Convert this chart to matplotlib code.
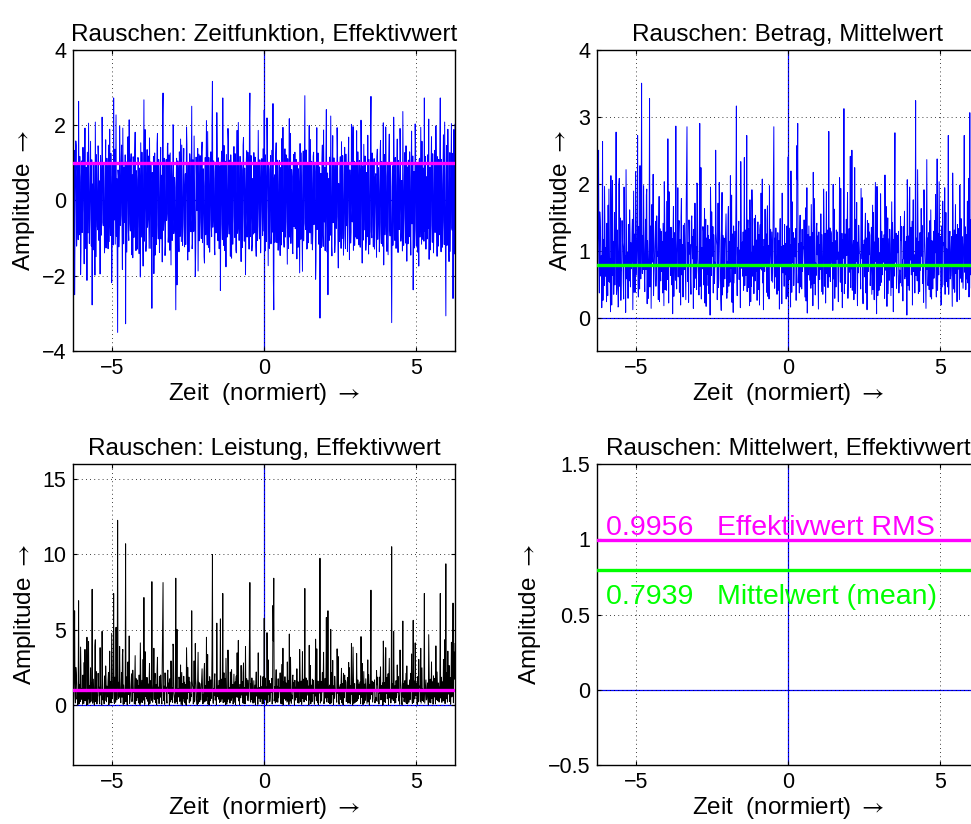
"""
Rauschen: Zeitfunktion, Betrag, Leistung und Kennwerte (Mittelwert / Effektivwert).
Saves out.png.
"""
import numpy as np
import matplotlib
matplotlib.use("Agg")
import matplotlib.pyplot as plt

plt.rcParams["font.family"] = ["Liberation Sans", "DejaVu Sans"]
plt.rcParams["mathtext.fontset"] = "stix"

# noise samples (t from -2pi to 2pi)
noise = [
    0.84, -0.41, -1.12, 1.33, -2.50, -0.77, 0.37, 1.58, 1.46, -1.21, -0.62, 0.93, 0.15, -1.04, 2.63, 0.26, -0.91, 1.17, 0.48, -1.96,
    -1.37, 0.62, 1.05, -0.85, -0.24, 1.41, 0.71, -0.33, -1.68, 0.54, 1.92, -1.27, -0.53, 0.88, 0.09, -2.12, 1.28, 0.19, -0.86, 2.05,
    0.63, -1.14, -0.35, 0.72, 1.57, -0.49, -1.21, 1.08, -2.77, 0.35, 0.44, -1.31, 0.98, 0.16, -0.17, -1.98, 2.08, 0.47, -1.49, 1.22,
    0.26, -0.69, -0.78, 1.45, 1.13, -1.06, 0.52, -0.28, -1.95, 1.19, 0.81, -0.92, -0.08, 2.21, 1.36, -0.58, -0.67, 0.97, 0.29, -1.39,
    -1.04, 0.55, 1.61, -1.26, -0.46, 1.12, 0.73, -0.84, -1.28, 1.47, 0.12, -1.09, 1.89, -0.38, -0.93, 1.25, 0.38, -2.18, -1.57, 0.64,
    0.94, -1.18, 2.72, -0.52, -0.31, 1.36, -1.16, 0.43, 2.27, -0.95, 0.58, -1.42, -3.50, 0.81, 0.66, -1.23, -0.72, 1.97, 1.19, -0.66,
    -0.39, 1.03, 1.47, -0.72, -1.83, 1.92, 0.21, -1.15, 0.87, 0.29, -0.58, 1.21, -3.27, -0.46, 1.02, -1.37, -0.14, 0.91, 1.69, -0.83,
    -1.06, 2.14, 0.33, -0.61, -0.81, 1.07, 1.24, -1.44, 0.47, 0.68, -1.52, 1.16, 0.92, -0.98, -0.27, 1.31, 1.81, -0.24, -1.33, 0.79,
    0.55, -1.29, -0.69, 1.14, 1.08, -0.37, -1.41, 0.86, 0.18, -2.03, 1.53, 0.42, -0.97, 1.28, 0.41, -0.89, -1.74, 0.57, 2.67, -1.08,
    -0.22, 1.88, 0.76, -1.35, -1.11, 0.63, 1.35, -0.71, -0.49, 1.18, 0.06, -1.27, 1.66, 0.32, -1.27, 1.02, 0.89, -0.56, -2.86, 0.74,
    0.43, -0.96, 1.17, -1.94, -0.61, 1.26, -1.45, 0.38, 0.95, -1.17, -0.19, 1.51, 1.78, -0.64, -1.02, 1.09, 0.31, -1.38, -0.84, 0.72,
    1.41, -1.02, 0.67, 0.27, -1.63, 2.26, 2.85, -0.79, -0.54, 1.12, 0.23, -1.46, -1.18, 0.95, 1.09, -0.53, -0.35, 1.44, 1.52, -1.11,
    -0.88, 1.21, 0.14, -1.32, 1.26, -0.45, -1.71, 0.98, 0.59, -1.06, -0.42, 2.01, 1.97, -0.88, -0.76, 0.61, 0.34, -1.24, -2.90, 0.47,
    1.12, -2.24, -0.28, 1.05, 0.83, -0.73, -1.36, 1.29, 0.49, -0.95, 1.63, 0.22, -1.09, 1.47, 0.17, -1.19, -0.65, 0.84, 1.38, -0.48,
    -1.23, 0.36, 0.71, -1.17, -0.04, 1.95, 1.48, -0.63, -1.58, 1.01, 0.92, -1.36, -0.37, 1.24, 1.06, -0.51, -0.83, 0.76, 2.50, -1.28,
    -1.14, 1.08, 0.27, -0.82, 1.71, 0.45, -0.59, -2.02, -1.31, 1.15, 0.64, -0.27, 0.11, 1.38, -1.87, -0.34, 1.23, -1.07, -0.46, 1.19,
    0.96, -0.58, -1.01, 1.27, 1.55, -1.12, -0.29, 0.84, 0.38, -1.49, -1.66, 0.47, 1.14, -0.91, 0.53, 2.12, -0.74, -1.18, 1.83, 0.23,
    -1.25, 1.14, 0.08, -1.37, -0.52, 0.89, 1.29, -0.66, -0.96, 1.89, 3.16, -0.71, -0.33, 1.05, 0.78, -1.29, -1.44, 0.57, 1.01, -0.86,
    -0.15, 2.33, 1.39, -0.74, -1.07, 1.13, 0.62, -1.28, -0.41, 0.93, -2.39, -0.48, 0.86, 1.31, -0.63, -1.04, 2.72, 0.39, -1.19, 1.46,
    0.45, -1.33, 1.04, 0.18, -1.76, 1.22, 0.24, -0.97, -0.47, 1.91, 1.58, -0.62, -0.89, 1.07, 0.36, -1.48, 1.21, 0.55, -1.53, 0.99,
    0.69, -1.16, -0.26, 1.08, 1.43, -0.42, -0.98, 1.24, 0.19, -1.31, -1.39, 0.73, 1.86, -0.87, -0.71, 2.07, 0.52, -1.06, -0.12, 1.17,
    1.16, -0.69, -1.62, 0.94, 0.81, -1.25, -0.38, 1.46, 1.67, -0.32, -1.08, 0.86, 0.28, -1.97, -0.79, 1.03, 1.32, -0.97, -0.55, 1.28,
    0.94, -0.53, -1.29, 2.11, 2.85, -0.96, -0.44, 1.19, 0.61, -1.34, -1.17, 0.58, 0.35, -0.89, 1.27, 0.41, -0.86, 1.15, 0.13, -1.22,
    -1.48, 0.77, 0.99, -1.06, -0.21, 1.86, 0.74, -0.67, -1.02, 1.08, 0.47, -1.39, -0.64, 0.92, 1.11, -0.28, -0.93, 1.37, 0.32, -0.81,
    2.40, -0.62, -1.34, 1.21, 0.57, -1.09, -0.16, 2.19, 1.44, -0.38, -1.73, 0.96, 0.82, -1.27, -0.48, 0.71, 1.19, -1.15, -0.91, 1.33,
    0.26, -0.84, 2.57, -2.06, -2.90, 0.52, 0.68, -1.11, -0.37, 1.24, 1.53, -0.46, -1.12, 1.07, 0.43, -1.32, -0.69, 0.88, 1.06, -1.03,
    -1.46, 0.87, 0.31, -1.18, 1.64, -0.25, -0.82, 1.94, 0.07, -1.03, -1.24, 0.64, 1.37, -0.97, -0.56, 1.21, 0.91, -0.44, -1.69, 1.11,
    0.49, -1.27, 0.18, 2.17, -0.97, -0.51, 1.78, -1.14, -0.34, 0.82, 0.63, -1.36, -1.41, 0.94, 1.22, -0.69, -0.13, 1.28, -0.75, 0.57,
    1.09, -0.72, -1.55, 0.93, 0.39, -1.24, 0.84, 0.35, -0.66, -1.92, 1.51, -0.47, -1.03, 1.26, 0.22, -0.93, -1.88, 0.66, 1.31, -1.07,
    -0.45, 1.18, 2.78, -0.61, -0.77, 1.34, 0.54, -1.29, -1.26, 0.81, 0.96, -1.12, 0.11, 1.99, -0.58, -0.86, 1.62, 0.29, -1.15, 1.04,
    0.46, -1.31, -0.87, 1.17, 1.28, -0.64, -0.24, 0.98, 0.77, -2.09, -1.61, 0.53, 1.93, -0.77, -0.39, 1.26, 0.15, -1.16, -1.04, 0.89,
    -3.12, -0.36, 0.72, -1.25, -0.51, 1.09, 1.47, -0.93, -1.22, 1.87, 0.29, -0.57, 0.88, -1.33, -0.68, 1.21, 2.41, -0.45, -1.37, 0.73,
    -2.50, 0.41, 0.58, -1.06, 1.15, 0.27, -0.92, 2.24, 0.36, -1.22, -1.47, 0.84, 1.72, -0.59, -0.18, 1.13, 0.67, -1.38, -1.13, 0.96,
    0.95, -0.74, -0.43, 1.93, 1.34, -0.88, -1.79, 0.45, 0.21, -1.09, 0.79, 1.16, -0.61, -1.27, 1.56, 0.37, -1.01, 1.19, 0.12, -1.45,
    -0.73, 0.69, 1.41, -0.94, -1.28, 1.23, 0.48, -0.67, 0.93, -1.35, -0.35, 1.07, 1.68, -0.42, -1.57, 0.81, 0.27, -1.13, -0.84, 2.02,
    1.19, -0.57, -0.06, 1.96, -1.32, 0.33, 1.04, -1.19, 0.41, 0.96, -0.97, -0.48, 1.85, -1.02, -0.53, 1.29, 0.64, -0.81, -1.18, 1.06,
    0.83, -1.24, -0.29, 2.13, 1.26, -0.71, -1.66, 0.92, 0.17, -1.05, 1.49, 0.36, -0.78, 1.18, 0.56, -1.32, -1.09, 0.74, 0.33, -0.96,
    1.73, -0.45, -1.42, 1.09, 0.09, -1.17, -0.62, 1.88, 2.76, -0.83, -0.99, 1.26, 0.44, -0.68, -1.23, 0.97, 1.11, -1.29, -0.37, 0.62,
    0.71, -0.52, -1.51, 1.16, 1.36, -1.03, -0.47, 0.87, 0.25, -1.36, -0.88, 1.24, 1.59, -0.58, -1.14, 1.03, 0.62, -1.21, 0.04, 2.06,
    -1.71, 0.48, 1.22, -0.91, -0.41, 1.95, 0.86, -1.07, -1.35, 0.64, 1.01, -1.44, -0.19, 1.18, 1.76, -0.69, -0.94, 0.93, 0.37, -1.26,
    -3.24, -0.63, 0.92, -1.19, -0.55, 2.21, 1.18, -0.36, -1.06, 1.14, 0.39, -1.27, -0.71, 0.84, 1.63, -0.92, -1.38, 1.06, 0.51, -0.77,
    -0.23, 1.91, 1.29, -1.08, -0.86, 0.53, 0.14, -1.34, 2.36, 0.72, -1.19, -0.48, 0.66, 1.27, -0.42, -1.13, 1.45, 0.31, -1.61, 0.89,
    0.28, -1.15, 1.07, -0.43, -0.96, 1.29, 0.59, -0.84, -1.45, 0.97, 1.84, -0.62, -0.31, 1.18, -2.37, -0.41, 0.77, -1.26, -0.64, 2.03,
    1.38, -0.79, -1.21, 0.95, 0.19, -1.37, 0.94, 0.46, -1.74, 1.08, 1.12, -0.97, -0.49, 1.94, 0.35, -1.16, 1.57, -0.54, -1.03, 0.86,
    0.46, -1.08, 2.72, -0.35, -0.82, 1.17, -1.29, 0.58, 0.63, -1.02, 1.21, -0.74, -0.17, 2.16, -1.56, 0.43, 0.88, -1.31, -0.38, 0.99,
    1.69, -0.66, -1.11, 1.24, 0.24, -1.39, -0.72, 0.91, 1.33, -0.85, -0.27, 1.98, 0.97, -0.59, -1.48, 1.16, 0.53, -1.21, 1.09, -0.44,
    -0.91, 1.26, 2.72, -0.68, -1.36, 1.09, 0.42, -1.24, -0.58, 0.95, 1.74, -0.52, -1.17, 2.08, 0.31, -0.97, -3.06, 0.64, 1.46, -1.19,
    -0.44, 1.89, 0.85, -1.08, -1.62, 0.49, 1.27, -1.35, -0.23, 1.17, 2.04, -0.73, -0.79, 1.25, -2.60, 0.38, 1.88, -1.42, -1.31, 2.02,
]

# values printed in the last panel
rms_value = 0.9956
mean_value = 0.7939

titles = [
    "Rauschen: Zeitfunktion, Effektivwert",
    "Rauschen: Betrag, Mittelwert",
    "Rauschen: Leistung, Effektivwert",
    "Rauschen: Mittelwert, Effektivwert",
]
ylims = [(-4, 4), (-0.5, 4), (-4, 16), (-0.5, 1.5)]
yticks = [[-4, -2, 0, 2, 4], [0, 1, 2, 3, 4], [0, 5, 10, 15], [-0.5, 0, 0.5, 1, 1.5]]
yticklabels = [None, None, None, ["\u22120.5", "0", "0.5", "1", "1.5"]]

BLUE = "#0000ff"
MAGENTA = "#ff00ff"
GREEN = "#00ff00"

sig = np.array(noise)
t = np.linspace(-2 * np.pi, 2 * np.pi, len(sig))

fig = plt.figure(figsize=(9.71, 8.24), dpi=100)
w, h = 0.3934, 0.3660
positions = [
    (0.0752, 0.5737), (0.6148, 0.5737),
    (0.0752, 0.0712), (0.6148, 0.0712),
]
axes = [fig.add_axes([x0, y0, w, h]) for x0, y0 in positions]

for i, ax in enumerate(axes):
    ax.set_xlim(-2 * np.pi, 2 * np.pi)
    ax.set_ylim(*ylims[i])
    ax.set_xticks([-5, 0, 5])
    ax.set_yticks(yticks[i])
    if yticklabels[i] is not None:
        ax.set_yticklabels(yticklabels[i])
    ax.grid(True, color="black", linestyle=(0, (1, 4)), linewidth=0.6)
    ax.tick_params(direction="in", top=True, right=True, length=3,
                   labelsize=15.5, pad=5)
    for s in ax.spines.values():
        s.set_linewidth(1.0)
    ax.set_title(titles[i], fontsize=17.5, pad=6)
    ax.set_xlabel("Zeit  (normiert) $\\rightarrow$", fontsize=17.5, labelpad=1)
    ax.set_ylabel("Amplitude $\\rightarrow$", fontsize=17.5, labelpad=3)
    ax.axvline(0, color=BLUE, linewidth=0.9, zorder=1)
    ax.axhline(0, color=BLUE, linewidth=0.9, zorder=1)

# time function
axes[0].plot(t, sig, color=BLUE, linewidth=0.7, zorder=2)
axes[0].axhline(rms_value, color=MAGENTA, linewidth=2.4, zorder=3)

# magnitude
axes[1].plot(t, np.abs(sig), color=BLUE, linewidth=0.7, zorder=2)
axes[1].axhline(mean_value, color=GREEN, linewidth=2.4, zorder=3)

# power
axes[2].plot(t, sig ** 2, color="black", linewidth=0.7, zorder=2)
axes[2].axhline(rms_value, color=MAGENTA, linewidth=2.4, zorder=3)

# characteristic values
axes[3].axhline(rms_value, color=MAGENTA, linewidth=2.4, zorder=3)
axes[3].axhline(mean_value, color=GREEN, linewidth=2.4, zorder=3)
axes[3].text(-6.0, 1.03, f"{rms_value:.4f}   Effektivwert RMS",
             color=MAGENTA, fontsize=20.5, va="baseline")
axes[3].text(-6.0, 0.57, f"{mean_value:.4f}   Mittelwert (mean)",
             color=GREEN, fontsize=20.5, va="baseline")

fig.savefig("out.png", dpi=100)
